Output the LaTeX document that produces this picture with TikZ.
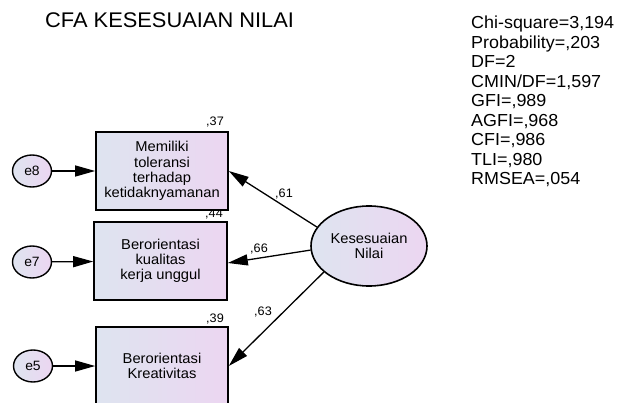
\documentclass[tikz,border=0pt]{standalone}
\usepackage{fontspec}
\setmainfont[FakeStretch=1.03]{Liberation Sans}
\usetikzlibrary{arrows.meta,shapes.geometric}
\definecolor{shadeL}{RGB}{222,228,240}
\definecolor{shadeR}{RGB}{236,214,241}
\tikzset{
  obsbox/.style={rectangle, draw, line width=1.6pt, left color=shadeL, right color=shadeR,
    minimum width=132pt, minimum height=78pt, inner sep=0pt, align=center,
    font=\fontsize{14.3}{15.3}\selectfont},
  errnode/.style={ellipse, draw, line width=1.4pt, left color=shadeL, right color=shadeR,
    minimum width=39pt, minimum height=32pt, inner sep=0pt, font=\fontsize{13.5}{15}\selectfont},
  latnode/.style={ellipse, draw, line width=1.6pt, left color=shadeL, right color=shadeR,
    minimum width=116pt, minimum height=80pt, inner sep=0pt, align=center,
    font=\fontsize{14.3}{15.3}\selectfont},
  path/.style={line width=1.3pt, -{Triangle[length=20pt,width=11pt]}},
  coef/.style={inner sep=0pt, font=\fontsize{12.3}{13}\selectfont}
}
\begin{document}
\begin{tikzpicture}[x=1pt,y=-1pt]
  \useasboundingbox (0,0) rectangle (620,403);
  \clip (0,0) rectangle (620,403);
  \node[anchor=base west, inner sep=0pt, font=\fontsize{21.2}{24}\selectfont] (title) at (45,27.5) {CFA KESESUAIAN NILAI};
  % fit measures
  \foreach \t [count=\i] in {{Chi-square=3,194},{Probability=,203},{DF=2},{CMIN/DF=1,597},
      {GFI=,989},{AGFI=,968},{CFI=,986},{TLI=,980},{RMSEA=,054}}
    \node[anchor=base west, inner sep=0pt, font=\fontsize{17.4}{19}\selectfont] (fit\i) at (471,{29+19.5*(\i-1)}) {\t};
  % squared multiple correlations
  \node[coef, anchor=base east] (r1) at (224,125.5) {,37};
  \node[coef, anchor=base east] (r2) at (223,218) {,44};
  \node[coef, anchor=base east] (r3) at (224,322) {,39};
  % indicators
  \node[obsbox] (m1) at (162,171) {Memiliki\\toleransi\\terhadap\\ketidaknyamanan};
  \node[obsbox, minimum width=133pt] (m2) at (160.5,261) {Berorientasi\\kualitas\\kerja unggul};
  \node[obsbox] (m3) at (162,366) {Berorientasi\\Kreativitas};
  % errors
  \node[errnode] (e8) at (32,171) {e8};
  \node[errnode] (e7) at (32,262) {e7};
  \node[errnode] (e5) at (33,366) {e5};
  \draw[path] (e8) -- (m1);
  \draw[path] (e7) -- (m2);
  \draw[path] (e5) -- (m3);
  % latent
  \node[latnode] (lat) at (369,246) {Kesesuaian\\Nilai};
  \draw[path] (lat.160) -- (m1.east);
  \draw[path] (lat.184) -- ([yshift=-2pt]m2.east);
  \draw[path] (lat.210) -- (m3.east);
  \node[coef, anchor=base west] (l1) at (275,197) {,61};
  \node[coef, anchor=base west] (l2) at (250,252) {,66};
  \node[coef, anchor=base west] (l3) at (254,315) {,63};
\end{tikzpicture}
\end{document}
